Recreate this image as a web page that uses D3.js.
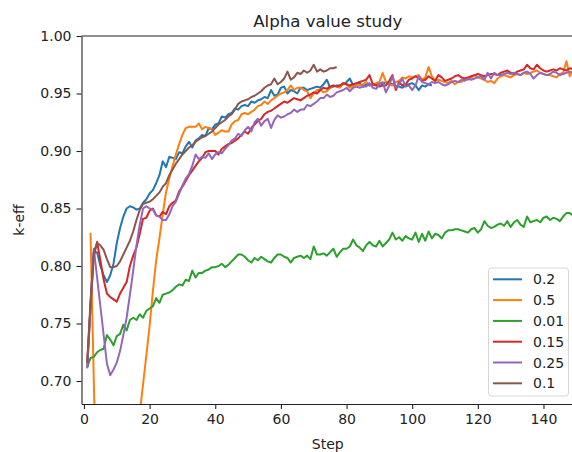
<!DOCTYPE html>
<html>
<head>
<meta charset="utf-8">
<script src="https://cdn.jsdelivr.net/npm/d3@7"></script>
<style>
  body { margin: 0; background: #fff; }
  svg { display: block; font-family: "DejaVu Sans", sans-serif; }
</style>
</head>
<body>
<svg id="chart"></svg>
<script>
// series labels and colours (matplotlib tab10 order)
const alphaLabels = ["0.2", "0.5", "0.01", "0.15", "0.25", "0.1"];
const colors = ["#1f77b4", "#ff7f0e", "#2ca02c", "#d62728", "#9467bd", "#8c564b"];
// first step of each series
const startSteps = [1, 2, 1, 1, 1, 1];

const xTicks = [0, 20, 40, 60, 80, 100, 120, 140];
const yTicks = [0.70, 0.75, 0.80, 0.85, 0.90, 0.95, 1.00];

// k-eff per step
const keff02 = [
  0.712,0.765,0.812,0.812,0.800,0.792,0.786,0.792,0.802,0.820,
  0.833,0.843,0.850,0.852,0.851,0.849,0.850,0.855,0.858,0.863,
  0.866,0.872,0.879,0.891,0.886,0.895,0.894,0.893,0.899,0.898,
  0.904,0.908,0.903,0.909,0.911,0.914,0.913,0.920,0.919,0.923,
  0.924,0.930,0.929,0.932,0.933,0.937,0.936,0.939,0.940,0.939,
  0.943,0.942,0.944,0.945,0.947,0.946,0.953,0.948,0.949,0.955,
  0.956,0.950,0.953,0.952,0.950,0.955,0.955,0.953,0.954,0.955,
  0.956,0.955,0.958,0.962,0.955,0.956,0.957,0.957,0.958,0.960,
  0.963,0.957,0.958,0.959,0.956,0.958,0.957,0.958,0.958,0.959,
  0.958,0.960,0.959,0.958,0.956,0.956,0.955,0.957,0.958,0.959,
  0.957,0.953,0.957,0.956,0.958,0.957
];

const keff05 = [
  0.829,0.700,0.580,0.500,0.450,0.420,0.400,0.400,0.420,0.450,
  0.490,0.540,0.580,0.620,0.645,0.672,0.697,0.722,0.748,0.778,
  0.805,0.824,0.845,0.864,0.876,0.887,0.897,0.906,0.914,0.920,
  0.921,0.921,0.921,0.924,0.919,0.921,0.920,0.919,0.914,0.916,
  0.918,0.917,0.917,0.923,0.926,0.927,0.932,0.933,0.932,0.934,
  0.936,0.939,0.940,0.943,0.941,0.944,0.946,0.948,0.950,0.951,
  0.953,0.957,0.953,0.955,0.955,0.953,0.952,0.946,0.950,0.953,
  0.953,0.951,0.952,0.955,0.957,0.956,0.955,0.959,0.958,0.955,
  0.957,0.958,0.957,0.958,0.960,0.958,0.957,0.959,0.960,0.968,
  0.960,0.958,0.957,0.960,0.961,0.964,0.963,0.965,0.964,0.965,
  0.966,0.962,0.964,0.973,0.965,0.961,0.962,0.961,0.960,0.959,
  0.961,0.958,0.960,0.960,0.963,0.962,0.964,0.966,0.964,0.963,
  0.962,0.960,0.961,0.959,0.963,0.965,0.966,0.965,0.964,0.966,
  0.967,0.966,0.968,0.967,0.968,0.969,0.970,0.968,0.967,0.966,
  0.966,0.965,0.964,0.967,0.968,0.978,0.965,0.970
];

const keff001 = [
  0.712,0.720,0.721,0.725,0.727,0.728,0.740,0.736,0.731,0.739,
  0.741,0.749,0.744,0.753,0.755,0.753,0.758,0.755,0.761,0.763,
  0.765,0.772,0.768,0.775,0.776,0.777,0.779,0.782,0.784,0.783,
  0.788,0.787,0.796,0.790,0.794,0.794,0.796,0.797,0.799,0.799,
  0.800,0.802,0.799,0.801,0.804,0.807,0.810,0.810,0.808,0.805,
  0.803,0.807,0.805,0.808,0.806,0.804,0.803,0.807,0.810,0.810,
  0.808,0.807,0.803,0.807,0.808,0.809,0.807,0.809,0.806,0.817,
  0.810,0.810,0.811,0.809,0.812,0.815,0.808,0.812,0.815,0.815,
  0.817,0.823,0.818,0.816,0.813,0.818,0.821,0.818,0.817,0.822,
  0.817,0.820,0.823,0.829,0.823,0.825,0.822,0.826,0.824,0.823,
  0.829,0.821,0.828,0.822,0.830,0.824,0.828,0.827,0.824,0.829,
  0.831,0.831,0.832,0.832,0.831,0.830,0.829,0.832,0.833,0.829,
  0.832,0.839,0.835,0.833,0.834,0.836,0.837,0.835,0.839,0.834,
  0.838,0.840,0.836,0.834,0.843,0.838,0.839,0.840,0.838,0.842,
  0.843,0.840,0.842,0.841,0.839,0.843,0.846,0.846,0.844
];

const keff015 = [
  0.716,0.765,0.808,0.821,0.805,0.788,0.776,0.773,0.771,0.769,
  0.776,0.781,0.786,0.800,0.809,0.816,0.828,0.841,0.842,0.848,
  0.850,0.844,0.843,0.847,0.845,0.852,0.855,0.857,0.865,0.869,
  0.874,0.879,0.883,0.887,0.891,0.894,0.899,0.900,0.900,0.900,
  0.897,0.902,0.904,0.906,0.907,0.909,0.911,0.914,0.917,0.915,
  0.920,0.923,0.926,0.928,0.932,0.934,0.935,0.937,0.939,0.941,
  0.943,0.942,0.944,0.946,0.945,0.944,0.946,0.948,0.949,0.951,
  0.950,0.953,0.955,0.954,0.956,0.957,0.956,0.957,0.959,0.958,
  0.957,0.958,0.959,0.960,0.961,0.962,0.966,0.958,0.957,0.956,
  0.957,0.957,0.961,0.966,0.953,0.960,0.957,0.958,0.962,0.963,
  0.965,0.963,0.961,0.962,0.965,0.963,0.961,0.966,0.964,0.961,
  0.962,0.963,0.965,0.966,0.964,0.963,0.964,0.965,0.966,0.967,
  0.966,0.965,0.966,0.967,0.967,0.966,0.968,0.969,0.970,0.968,
  0.967,0.969,0.970,0.971,0.975,0.972,0.971,0.975,0.972,0.970,
  0.969,0.970,0.971,0.970,0.972,0.971,0.970,0.972,0.971
];

const keff025 = [
  0.711,0.765,0.815,0.790,0.765,0.740,0.715,0.705,0.710,0.716,
  0.726,0.740,0.755,0.775,0.796,0.818,0.836,0.850,0.852,0.850,
  0.849,0.844,0.843,0.840,0.840,0.845,0.852,0.856,0.863,0.870,
  0.876,0.880,0.887,0.897,0.893,0.895,0.894,0.898,0.893,0.897,
  0.899,0.898,0.902,0.905,0.909,0.911,0.915,0.913,0.918,0.921,
  0.917,0.925,0.928,0.922,0.926,0.928,0.920,0.927,0.931,0.929,
  0.930,0.932,0.933,0.936,0.934,0.936,0.936,0.940,0.939,0.941,
  0.943,0.946,0.946,0.949,0.947,0.948,0.951,0.952,0.953,0.955,
  0.952,0.955,0.956,0.955,0.956,0.956,0.959,0.955,0.954,0.958,
  0.960,0.951,0.957,0.965,0.955,0.958,0.963,0.956,0.957,0.953,
  0.957,0.965,0.960,0.959,0.958,0.960,0.959,0.960,0.958,0.957,
  0.958,0.960,0.961,0.960,0.962,0.961,0.963,0.962,0.963,0.964,
  0.965,0.962,0.968,0.963,0.968,0.966,0.966,0.967,0.968,0.967,
  0.968,0.967,0.966,0.968,0.969,0.967,0.963,0.966,0.968,0.967,
  0.966,0.967,0.969,0.968,0.966,0.967,0.968,0.969,0.968
];

const keff01 = [
  0.716,0.770,0.812,0.820,0.818,0.814,0.806,0.799,0.799,0.800,
  0.804,0.810,0.816,0.822,0.830,0.840,0.849,0.854,0.855,0.856,
  0.858,0.861,0.864,0.869,0.872,0.879,0.884,0.889,0.893,0.897,
  0.900,0.903,0.905,0.908,0.910,0.912,0.913,0.915,0.917,0.920,
  0.923,0.925,0.927,0.930,0.932,0.936,0.941,0.943,0.944,0.945,
  0.947,0.948,0.950,0.952,0.955,0.957,0.958,0.963,0.958,0.960,
  0.963,0.969,0.962,0.964,0.968,0.967,0.970,0.968,0.970,0.975,
  0.969,0.971,0.969,0.970,0.972,0.972,0.973
];

const seriesValues = [keff02, keff05, keff001, keff015, keff025, keff01];

const width = 572;
const height = 452;
const plotLeft = 81.5, plotRight = 574, plotTop = 36, plotBottom = 404;

const svg = d3.select("#chart")
    .attr("width", width)
    .attr("height", height);

const x = d3.scaleLinear().domain([-0.75, 149.3]).range([plotLeft, plotRight]);
const y = d3.scaleLinear().domain([0.68, 1.0]).range([plotBottom, plotTop]);

svg.append("defs").append("clipPath")
    .attr("id", "plot-clip")
    .append("rect")
    .attr("x", plotLeft).attr("y", plotTop)
    .attr("width", plotRight - plotLeft).attr("height", plotBottom - plotTop);

const line = d3.line()
    .x(d => x(d[0]))
    .y(d => y(d[1]));

const lines = svg.append("g").attr("clip-path", "url(#plot-clip)");
seriesValues.forEach((vals, i) => {
    const pts = vals.map((v, j) => [j + startSteps[i], v]);
    lines.append("path")
        .datum(pts)
        .attr("fill", "none")
        .attr("stroke", colors[i])
        .attr("stroke-width", 2)
        .attr("stroke-linejoin", "round")
        .attr("d", line);
});

// axes
const xAxis = svg.append("g")
    .attr("transform", `translate(0,${plotBottom})`)
    .call(d3.axisBottom(x).tickValues(xTicks).tickSize(5).tickSizeOuter(0).tickPadding(5));
const yAxis = svg.append("g")
    .attr("transform", `translate(${plotLeft},0)`)
    .call(d3.axisLeft(y).tickValues(yTicks).tickFormat(d3.format(".2f")).tickSize(5).tickSizeOuter(0).tickPadding(5));

[xAxis, yAxis].forEach(g => {
    g.selectAll("text").attr("font-size", 14).attr("fill", "#222").attr("font-family", "DejaVu Sans");
    g.selectAll("line").attr("stroke", "#222").attr("stroke-width", 1.1);
    g.select(".domain").attr("stroke", "#222").attr("stroke-width", 1.1);
});

// top spine
svg.append("line")
    .attr("x1", plotLeft).attr("x2", plotRight)
    .attr("y1", plotTop).attr("y2", plotTop)
    .attr("stroke", "#222").attr("stroke-width", 1.1);

svg.append("text")
    .attr("x", (plotLeft + plotRight) / 2)
    .attr("y", 27)
    .attr("text-anchor", "middle")
    .attr("font-size", 16.6)
    .attr("fill", "#222")
    .text("Alpha value study");

svg.append("text")
    .attr("x", (plotLeft + plotRight) / 2)
    .attr("y", 448.5)
    .attr("text-anchor", "middle")
    .attr("font-size", 14)
    .attr("fill", "#222")
    .text("Step");

svg.append("text")
    .attr("transform", `translate(24,${(plotTop + plotBottom) / 2}) rotate(-90)`)
    .attr("text-anchor", "middle")
    .attr("font-size", 14)
    .attr("fill", "#222")
    .text("k-eff");

// legend
const legend = svg.append("g").attr("transform", "translate(488.5,268)");
legend.append("rect")
    .attr("width", 80).attr("height", 128)
    .attr("rx", 3)
    .attr("fill", "#fff").attr("fill-opacity", 0.8)
    .attr("stroke", "#d6d6d6");
alphaLabels.forEach((lab, i) => {
    const row = legend.append("g").attr("transform", `translate(0,${11.3 + i * 20.8})`);
    row.append("line")
        .attr("x1", 4.5).attr("x2", 33.5)
        .attr("stroke", colors[i]).attr("stroke-width", 2);
    row.append("text")
        .attr("x", 44.5).attr("dy", "0.36em")
        .attr("font-size", 14)
        .attr("fill", "#222")
        .text(lab);
});
</script>
</body>
</html>
